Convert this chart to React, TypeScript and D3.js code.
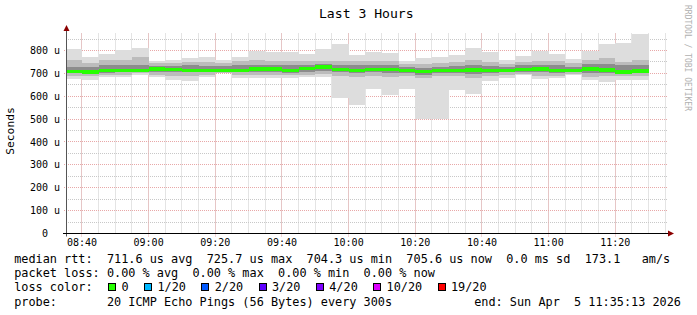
import React from 'react';
import * as d3 from 'd3';

// ---- data (microseconds), one value per 5-minute bin starting 08:35 ----
const medianUs = [709, 707, 713, 713, 713, 719, 716, 713, 713, 713, 713, 720, 720, 713, 722, 727, 718, 713, 718, 718, 713, 708, 713, 713, 714, 713, 713, 718, 720, 713, 713, 720, 714, 706, 710];
const minUs = [677, 672, 683, 683, 694, 684, 671, 668, 683, 700, 680, 680, 680, 680, 683, 683, 592, 563, 632, 607, 633, 500, 500, 629, 612, 668, 680, 691, 677, 680, 691, 672, 662, 672, 672];
const loMidUs = [690, 688, 692, 695, 700, 695, 690, 688, 693, 703, 693, 693, 695, 692, 695, 697, 690, 685, 690, 685, 690, 680, 688, 690, 680, 688, 695, 698, 690, 690, 696, 685, 690, 690, 690];
const loInUs = [700, 700, 703, 705, 706, 708, 705, 705, 705, 708, 705, 707, 708, 703, 708, 710, 705, 700, 705, 700, 702, 695, 700, 703, 698, 703, 705, 706, 705, 703, 705, 700, 700, 698, 700];
const hiInUs = [730, 728, 735, 738, 735, 733, 732, 735, 733, 733, 735, 738, 738, 735, 738, 740, 735, 735, 737, 735, 728, 725, 728, 733, 735, 733, 728, 735, 738, 735, 730, 740, 742, 735, 738];
const hiMidUs = [757, 745, 760, 760, 770, 745, 745, 750, 750, 745, 752, 760, 752, 755, 752, 755, 755, 755, 755, 755, 740, 740, 745, 750, 758, 750, 740, 750, 752, 752, 745, 760, 768, 750, 760];
const maxUs = [806, 771, 785, 803, 811, 754, 758, 767, 771, 758, 770, 799, 793, 793, 785, 805, 828, 782, 793, 789, 752, 767, 771, 779, 811, 793, 757, 776, 799, 785, 763, 799, 828, 833, 872];

const yMaxUs = 874.3;
const yMajorTicks = [0, 100, 200, 300, 400, 500, 600, 700, 800];
const yMinorTicks = [50, 150, 250, 350, 450, 550, 650, 750, 850];

const lossLabels = ['0', '1/20', '2/20', '3/20', '4/20', '10/20', '19/20'];
const lossColors = ['#26ff00', '#00b8ff', '#0059ff', '#5e00ff', '#7e00ff', '#dd00ff', '#ff0000'];

const titleText = 'Last 3 Hours';
const yAxisTitle = 'Seconds';
const watermark = 'RRDTOOL / TOBI OETIKER';
const legendLine1 = 'median rtt:  711.6 us avg  725.7 us max  704.3 us min  705.6 us now  0.0 ms sd  173.1   am/s';
const legendLine2 = 'packet loss: 0.00 % avg  0.00 % max  0.00 % min  0.00 % now';
const legendLine3Head = 'loss color:';
const legendLine4 = 'probe:       20 ICMP Echo Pings (56 Bytes) every 300s';
const endText = 'end: Sun Apr  5 11:35:13 2026';

const startTime = new Date(Date.UTC(2026, 3, 5, 8, 35, 13));
const endTime = new Date(Date.UTC(2026, 3, 5, 11, 35, 13));
const firstBin = new Date(Date.UTC(2026, 3, 5, 8, 35, 0));

const W = 697;
const H = 315;
const left = 66;
const right = 666;
const top = 33.5;
const bottom = 233.5;

const mono = '"DejaVu Sans Mono", "Liberation Mono", monospace';

export default function App() {
  const x = d3.scaleUtc().domain([startTime, endTime]).range([left, right]);
  const y = d3.scaleLinear().domain([0, yMaxUs]).range([bottom, top]);

  const minorX = d3.utcMinute.every(5)!.range(startTime, endTime);
  const majorX = d3.utcMinute.every(20)!.range(startTime, endTime);
  const fmt = d3.utcFormat('%H:%M');

  const bins = medianUs.map((m, i) => {
    const t0 = d3.utcMinute.offset(firstBin, i * 5);
    const t1 = d3.utcMinute.offset(firstBin, (i + 1) * 5);
    const x0 = Math.max(left, Math.round(x(t0)));
    const x1 = Math.round(x(t1));
    return { i, x0, x1, m };
  });

  const px = (v: number) => Math.floor(v) + 0.5;

  const band = (lo: number[], hi: number[], fill: string, key: string) =>
    bins.map((b) => {
      const yt = y(hi[b.i]);
      const yb = y(lo[b.i]);
      return <rect key={key + b.i} x={b.x0} width={b.x1 - b.x0} y={yt} height={yb - yt} fill={fill} />;
    });

  const legendX0 = 14.2;
  const charW = 7.16;
  const legendFont = 11.85;
  const lineY = [263, 277.2, 291.4, 305.6];

  // loss color legend layout in character columns
  let col = 13;
  const lossItems = lossLabels.map((lab, k) => {
    const item = { lab, color: lossColors[k], boxCol: col, textCol: col + 2 };
    col = col + 2 + lab.length + 2;
    return item;
  });

  return (
    <svg width={W} height={H} style={{ position: 'absolute', left: 0, top: 0, background: '#fff' }} xmlns="http://www.w3.org/2000/svg">
      <rect x={0} y={0} width={W} height={H} fill="#ffffff" />
      {/* title */}
      <text x={366.3} y={17.5} textAnchor="middle" fontFamily={mono} fontSize={13.1} fill="#000">{titleText}</text>
      {/* watermark */}
      <text transform="translate(685,5) rotate(90)" fontFamily={mono} fontSize={8} fill="#b0b0b0">{watermark}</text>
      {/* y axis title */}
      <text transform="translate(14,131) rotate(-90)" textAnchor="middle" fontFamily={mono} fontSize={11.3} fill="#000">{yAxisTitle}</text>

      {/* grid */}
      {minorX.map((t, k) => (
        <line key={'vx' + k} x1={px(x(t))} x2={px(x(t))} y1={top} y2={bottom} stroke="#c8c8c8" strokeWidth={1} strokeDasharray="1,1" />
      ))}
      {yMinorTicks.map((v) => (
        <line key={'hy' + v} x1={left} x2={right + 2} y1={px(y(v))} y2={px(y(v))} stroke="#c8c8c8" strokeWidth={1} strokeDasharray="1,1" />
      ))}
      {majorX.map((t, k) => (
        <line key={'mx' + k} x1={px(x(t))} x2={px(x(t))} y1={top} y2={bottom + 3} stroke="#e8a8a8" strokeWidth={1} strokeDasharray="1,1" />
      ))}
      {yMajorTicks.filter((v) => v > 0).map((v) => (
        <line key={'my' + v} x1={left - 2} x2={right + 2} y1={px(y(v))} y2={px(y(v))} stroke="#e8a8a8" strokeWidth={1} strokeDasharray="1,1" />
      ))}

      {/* smoke */}
      <g shapeRendering="crispEdges">
        {band(minUs, maxUs, '#dddddd', 'o')}
        {band(loMidUs, hiMidUs, '#bcbcbc', 'm')}
        {band(loInUs, hiInUs, '#8c8c8c', 'n')}
        {bins.map((b) => (
          <rect key={'md' + b.i} x={b.x0} width={b.x1 - b.x0} y={y(b.m) - 1.75} height={3.5} fill={lossColors[0]} />
        ))}
      </g>

      {/* axes */}
      <line x1={px(left)} x2={px(left)} y1={bottom + 3} y2={29} stroke="#555" strokeWidth={1} />
      <line x1={left - 3} x2={670} y1={bottom} y2={bottom} stroke="#000" strokeWidth={1} />
      <path d={`M${left + 0.5 - 3},${31} L${left + 0.5 + 3},${31} L${left + 0.5},${25} Z`} fill="#8b0000" />
      <path d={`M${668},${bottom - 3} L${668},${bottom + 3} L${674},${bottom} Z`} fill="#8b0000" />

      {/* y labels */}
      {yMajorTicks.map((v) => (
        <text key={'yl' + v} x={60} y={y(v) + 3.6} textAnchor="end" fontFamily={mono} fontSize={10} fill="#000" xmlSpace="preserve" style={{ whiteSpace: 'pre' }}>
          {v === 0 ? '0  ' : `${v} u`}
        </text>
      ))}
      {/* x labels */}
      {majorX.map((t, k) => (
        <text key={'xl' + k} x={x(t)} y={245.5} textAnchor="middle" fontFamily={mono} fontSize={10} fill="#000">{fmt(t)}</text>
      ))}

      {/* legend */}
      <g fontFamily={mono} fontSize={legendFont} fill="#000" style={{ whiteSpace: 'pre' }}>
        <text x={legendX0} y={lineY[0]} xmlSpace="preserve">{legendLine1}</text>
        <text x={legendX0} y={lineY[1]} xmlSpace="preserve">{legendLine2}</text>
        <text x={legendX0} y={lineY[2]} xmlSpace="preserve">{legendLine3Head}</text>
        {lossItems.map((it, k) => (
          <g key={'li' + k}>
            <rect x={legendX0 + it.boxCol * charW + 1.5} y={lineY[2] - 7.5} width={7} height={7} fill={it.color} stroke="#000" strokeWidth={1} shapeRendering="crispEdges" />
            <text x={legendX0 + it.textCol * charW} y={lineY[2]} xmlSpace="preserve">{it.lab}</text>
          </g>
        ))}
        <text x={legendX0} y={lineY[3]} xmlSpace="preserve">{legendLine4}</text>
        <text x={681} y={lineY[3]} textAnchor="end" xmlSpace="preserve">{endText}</text>
      </g>
    </svg>
  );
}
